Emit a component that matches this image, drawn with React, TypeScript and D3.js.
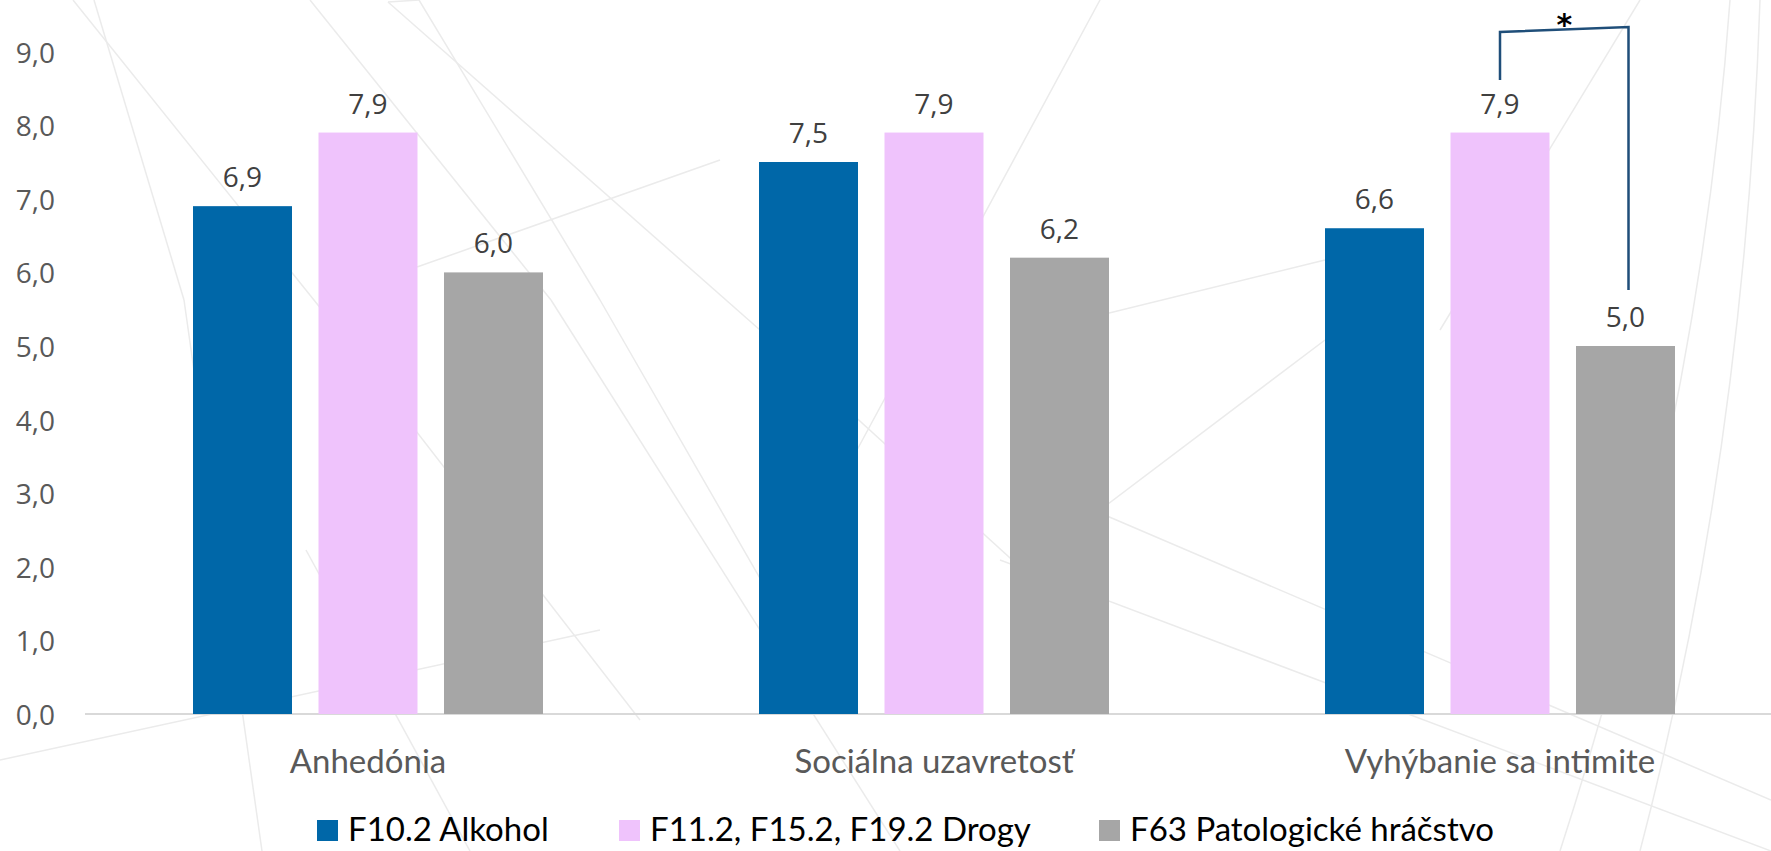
import React from "react";
import * as d3 from "d3";

const categories = ["Anhedónia", "Sociálna uzavretosť", "Vyhýbanie sa intimite"];
const seriesNames = ["F10.2 Alkohol", "F11.2, F15.2, F19.2 Drogy", "F63 Patologické hráčstvo"];
const seriesColors = ["#0067A8", "#EFC3FC", "#A6A6A6"];
const alkohol = [6.9, 7.5, 6.6];
const drogy = [7.9, 7.9, 7.9];
const hracstvo = [6.0, 6.2, 5.0];
const yTicks = [0, 1, 2, 3, 4, 5, 6, 7, 8, 9];
const seriesValues = [alkohol, drogy, hracstvo];

const W = 1771;
const H = 851;
const FONT = "Lato, 'Open Sans', sans-serif";
const NUMFONT = "'Open Sans', Lato, sans-serif";

const fmt = (v: number) => v.toFixed(1).replace(".", ",");

// faint decorative background lines
const bgLines: [number, number, number, number][] = [
  [73, 0, 330, 320],
  [330, 320, 640, 720],
  [94, 0, 184, 300],
  [184, 300, 262, 851],
  [310, 0, 551, 300],
  [551, 300, 900, 851],
  [388, 2, 419, 0],
  [388, 2, 760, 330],
  [760, 330, 1100, 640],
  [419, 0, 600, 300],
  [600, 300, 830, 700],
  [417, 267, 720, 160],
  [0, 760, 600, 630],
  [306, 550, 470, 851],
  [1040, 330, 1325, 260],
  [1100, 0, 830, 500],
  [1100, 513, 1771, 800],
  [1000, 560, 1771, 851],
  [1640, 0, 1440, 330],
  [1100, 510, 1325, 340],
];

export default function App() {
  const x0 = d3.scaleBand<string>().domain(categories).range([85, 85 + 3 * 566]);
  const x1 = d3.scalePoint<number>().domain([0, 1, 2]).range([-125.5, 125.5]);
  const y = d3.scaleLinear().domain([0, 9]).range([714, 51.6]);
  const barW = 99;

  const cx = (ci: number) => (x0(categories[ci]) as number) + x0.bandwidth() / 2;

  // bracket between series 1 and 2 in category 3
  const bxL = cx(2) + (x1(1) as number);
  const bxR = cx(2) + (x1(2) as number) + 3;

  const legendX = [317, 619, 1099];

  return (
    <svg width={W} height={H} style={{ position: "absolute", left: 0, top: 0, background: "#fff" }}>
      <g stroke="#ebebeb" strokeWidth={1.5} fill="none">
        {bgLines.map((l, i) => (
          <line key={i} x1={l[0]} y1={l[1]} x2={l[2]} y2={l[3]} />
        ))}
        <path d="M1730,0 Q1700,420 1560,851" />
        <path d="M1760,0 Q1745,450 1640,851" />
      </g>

      {yTicks.map((t) => (
        <text
          key={t}
          x={55}
          y={y(t)}
          textAnchor="end"
          dominantBaseline="central"
          fontFamily={NUMFONT}
          fontSize={28}
          fill="#595959"
        >
          {fmt(t)}
        </text>
      ))}

      <line x1={85} x2={W} y1={y(0)} y2={y(0)} stroke="#d9d9d9" strokeWidth={2} />

      {categories.map((c, ci) => (
        <g key={c}>
          {seriesValues.map((vals, si) => {
            const v = vals[ci];
            const bx = cx(ci) + (x1(si) as number) - barW / 2;
            return (
              <g key={si}>
                <rect x={bx} y={y(v)} width={barW} height={y(0) - y(v)} fill={seriesColors[si]} />
                <text
                  x={bx + barW / 2}
                  y={y(v) - 30}
                  textAnchor="middle"
                  dominantBaseline="central"
                  fontFamily={NUMFONT}
                  fontSize={28}
                  fill="#404040"
                >
                  {fmt(v)}
                </text>
              </g>
            );
          })}
          <text
            x={cx(ci)}
            y={773}
            textAnchor="middle"
            fontFamily={FONT}
            fontSize={33}
            fill="#595959"
          >
            {c}
          </text>
        </g>
      ))}

      <path
        d={`M${bxL},80 V32 L${bxR},27 V290`}
        fill="none"
        stroke="#1F4E79"
        strokeWidth={2.5}
      />
      <text
        x={(bxL + bxR) / 2}
        y={35}
        textAnchor="middle"
        fontFamily="'DejaVu Sans', sans-serif"
        fontWeight="bold"
        fontSize={30}
        fill="#000"
      >
        *
      </text>

      {seriesNames.map((s, si) => (
        <g key={s}>
          <rect x={legendX[si]} y={820} width={21} height={21} fill={seriesColors[si]} />
          <text x={legendX[si] + 31} y={841} fontFamily={FONT} fontSize={33} fill="#000">
            {s}
          </text>
        </g>
      ))}
    </svg>
  );
}
